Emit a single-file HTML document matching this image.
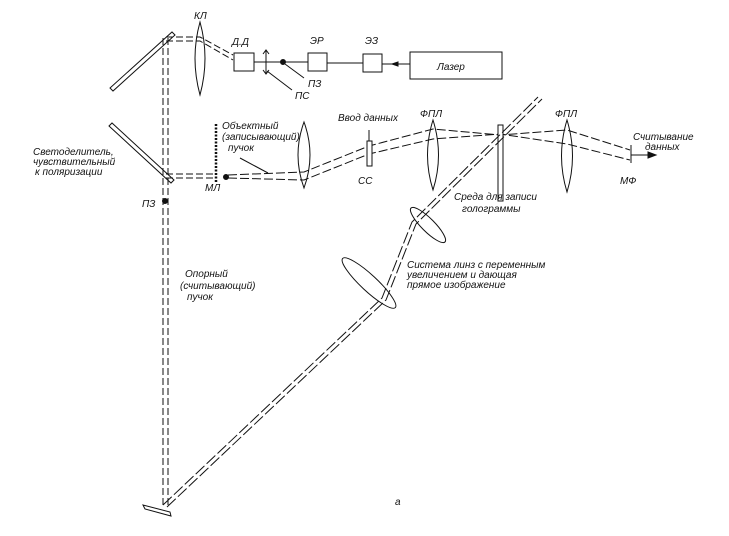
<!DOCTYPE html>
<html><head><meta charset="utf-8"><style>
html,body{margin:0;padding:0;background:#fff;width:729px;height:536px;overflow:hidden}
text{font-family:"Liberation Sans","DejaVu Sans",sans-serif;font-style:italic;font-size:10px;fill:#111}
</style></head><body>
<svg width="729" height="536" viewBox="0 0 729 536" xmlns="http://www.w3.org/2000/svg">
<g stroke="#111" fill="none" stroke-width="1">
<!-- mirrors -->
<polygon points="110,88 113,91 175,35 172,32" fill="#fff"/>
<polygon points="109,126 112,123 174,180 171,183" fill="#fff"/>
<polygon points="143,505 145,509 171,516 170,512" fill="#fff"/>
<!-- vertical beams -->
<line x1="163" y1="38" x2="163" y2="505" stroke-dasharray="7,3"/>
<line x1="168" y1="38" x2="168" y2="505" stroke-dasharray="7,3"/>
<circle cx="165" cy="201" r="2.5" fill="#111"/>
<!-- top beam -->
<path d="M166,37 L200,37 L233,55" stroke-dasharray="7,3"/>
<path d="M166,41 L200,41 L233,60" stroke-dasharray="7,3"/>
<path d="M200,22 Q210,58 200,95 Q190,58 200,22Z"/>
<rect x="234" y="53" width="20" height="18"/>
<line x1="254" y1="62" x2="308" y2="62"/>
<line x1="266" y1="50" x2="266" y2="74"/>
<path d="M263,54 L266,50 L269,54 M263,70 L266,74 L269,70"/>
<circle cx="283" cy="62" r="2.5" fill="#111"/>
<line x1="285" y1="64" x2="304" y2="78"/>
<line x1="267" y1="71" x2="292" y2="90"/>
<rect x="308" y="53" width="19" height="18"/>
<line x1="327" y1="63" x2="363" y2="63"/>
<rect x="363" y="54" width="19" height="18"/>
<line x1="382" y1="64" x2="410" y2="64"/>
<path d="M398,62 L392,64 L398,66Z" fill="#111"/>
<rect x="410" y="52" width="92" height="27"/>
<!-- middle -->
<path d="M166,174 L216,174" stroke-dasharray="7,3"/>
<path d="M166,178 L216,178" stroke-dasharray="7,3"/>
<line x1="216" y1="124" x2="216" y2="183" stroke-dasharray="2,1.5" stroke-width="2.5"/>
<circle cx="226" cy="177" r="2.5" fill="#111"/>
<path d="M228,175 L304,172 L369,146 L433,129 L500,135 L567,130 L630,150" stroke-dasharray="9,3"/>
<path d="M228,178 L304,180 L369,154 L433,139 L500,134 L567,144 L630,160" stroke-dasharray="9,3"/>
<path d="M304,122 Q316,155 304,188 Q292,155 304,122Z"/>
<line x1="240" y1="158" x2="268" y2="173"/>
<rect x="367" y="141" width="5" height="25" fill="#fff"/>
<line x1="369" y1="130" x2="369" y2="141"/>
<path d="M433,120 Q444,155 433,190 Q422,155 433,120Z"/>
<rect x="498" y="125" width="5" height="76" fill="#fff"/>
<path d="M567,120 Q578,156 567,192 Q556,156 567,120Z"/>
<line x1="631" y1="145" x2="631" y2="163"/>
<line x1="631" y1="155" x2="650" y2="155"/>
<path d="M648,152 L656,155 L648,158Z" fill="#111"/>
<!-- diagonal -->
<ellipse cx="369" cy="283" rx="36" ry="8" transform="rotate(43 369 283)" fill="#fff"/>
<ellipse cx="428" cy="225" rx="24" ry="6.5" transform="rotate(45 428 225)" fill="#fff"/>
<path d="M163,505 L382,298 L412,222 L538,97" stroke-dasharray="12,3"/>
<path d="M167,507 L386,300 L416,224 L542,99" stroke-dasharray="12,3"/>
</g>
<text x="194" y="19">КЛ</text>
<text x="232" y="45">Д.Д</text>
<text x="310" y="44">ЭР</text>
<text x="365" y="44">ЭЗ</text>
<text x="437" y="70" font-size="11">Лазер</text>
<text x="308" y="87">ПЗ</text>
<text x="295" y="99">ПС</text>
<text x="222" y="129" font-size="9">Объектный</text>
<text x="222" y="140" font-size="9">(записывающий)</text>
<text x="228" y="151" font-size="9">пучок</text>
<text x="338" y="121" font-size="9">Ввод данных</text>
<text x="420" y="117" font-size="9">ФПЛ</text>
<text x="555" y="117" font-size="9">ФПЛ</text>
<text x="633" y="140" font-size="9">Считывание</text>
<text x="645" y="150" font-size="9">данных</text>
<text x="620" y="184" font-size="9">МФ</text>
<text x="358" y="184" font-size="9">СС</text>
<text x="454" y="200" font-size="9">Среда для записи</text>
<text x="462" y="212" font-size="9">голограммы</text>
<text x="407" y="268" font-size="9">Система линз с переменным</text>
<text x="407" y="278" font-size="9">увеличением и дающая</text>
<text x="407" y="288" font-size="9">прямое изображение</text>
<text x="205" y="191" font-size="9">МЛ</text>
<text x="33" y="155" font-size="9">Светоделитель,</text>
<text x="33" y="165" font-size="9">чувствительный</text>
<text x="35" y="175" font-size="9">к поляризации</text>
<text x="142" y="207" font-size="9">ПЗ</text>
<text x="185" y="277" font-size="9">Опорный</text>
<text x="180" y="289" font-size="9">(считывающий)</text>
<text x="187" y="300" font-size="9">пучок</text>
<text x="395" y="505" font-size="12">a</text>
</svg>
</body></html>
